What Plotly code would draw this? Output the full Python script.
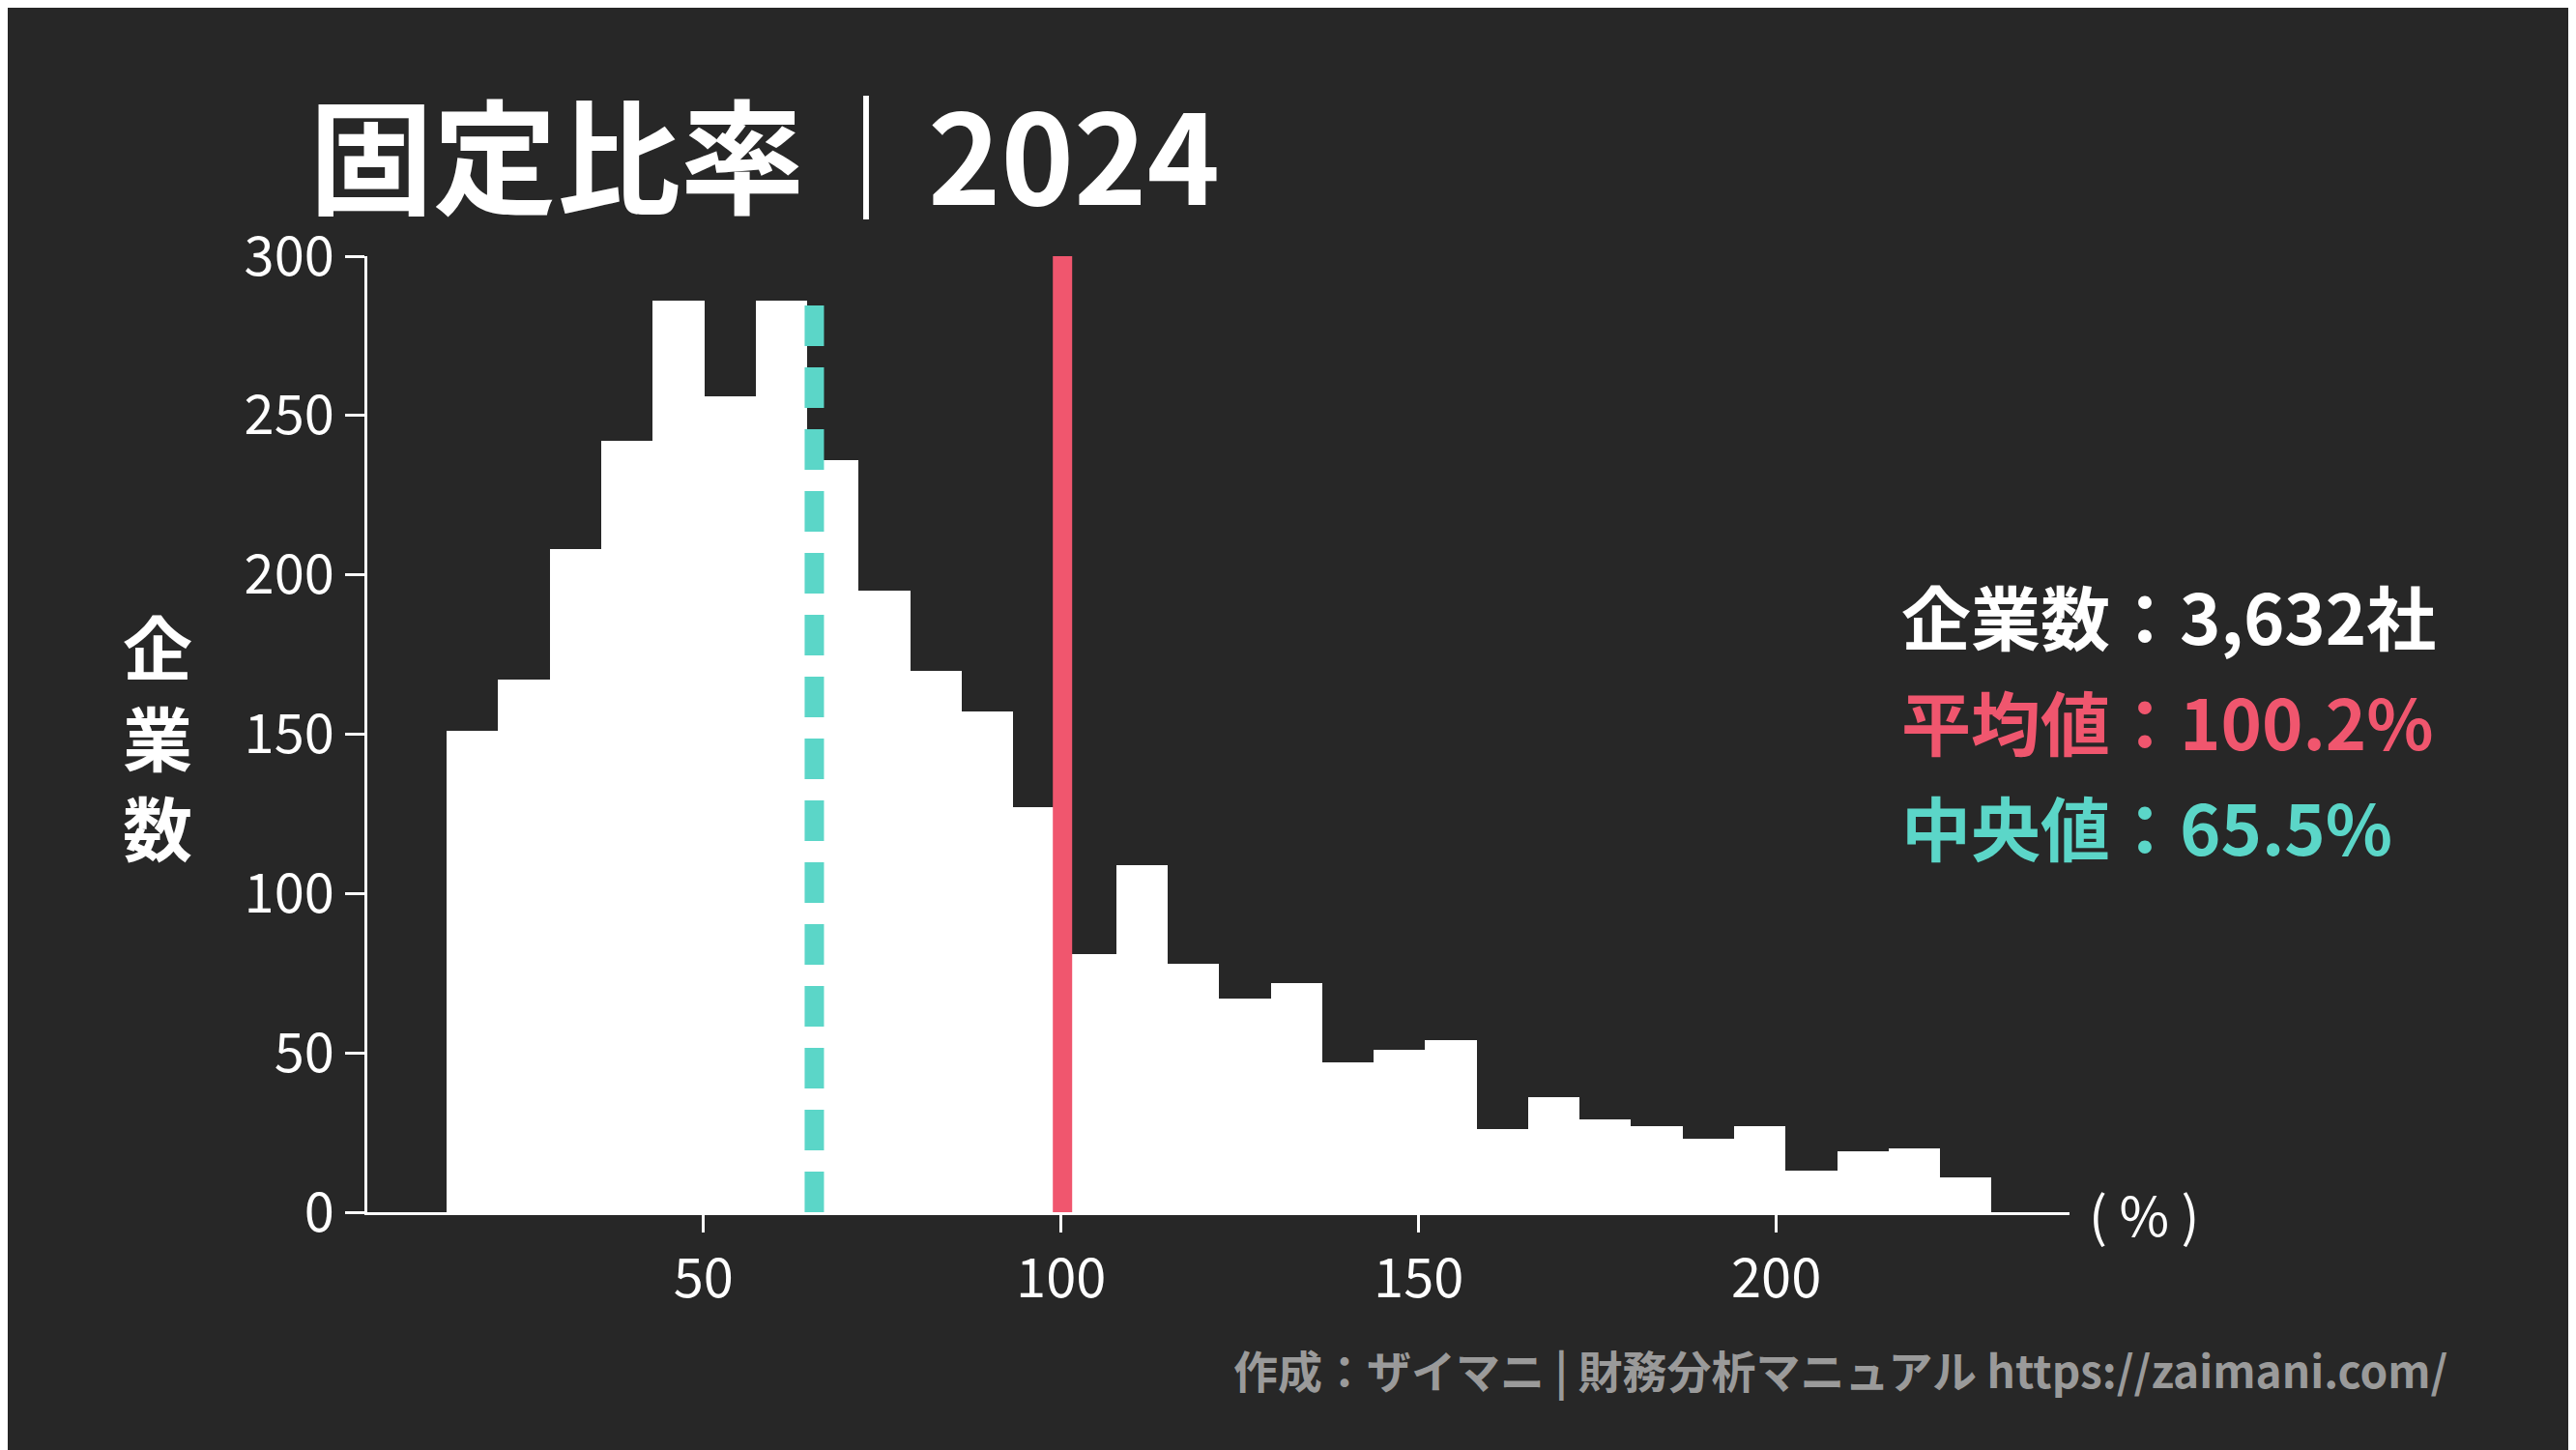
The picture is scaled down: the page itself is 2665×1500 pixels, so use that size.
import plotly.graph_objects as go

# histogram
bin_start = 14.1
bin_width = 7.2
counts = [151, 167, 208, 242, 286, 256, 286, 236, 195, 170, 157, 127, 81, 109, 78,
          67, 72, 47, 51, 54, 26, 36, 29, 27, 23, 27, 13, 19, 20, 11]
mean_val = 100.2
median_val = 65.5
n_companies = "3,632"

bg = "#272727"
red = "#F0566E"
teal = "#5BD6C8"
font = "Noto Sans CJK JP"

centers = [bin_start + bin_width * (i + 0.5) for i in range(len(counts))]

fig = go.Figure()
fig.add_trace(go.Bar(x=centers, y=counts, width=bin_width, marker=dict(color="white", line=dict(width=0))))
fig.add_trace(go.Scatter(x=[median_val, median_val], y=[0, 290], mode="lines",
                         line=dict(color=teal, width=20, dash="42px,22px")))
fig.add_trace(go.Scatter(x=[mean_val, mean_val], y=[0, 300], mode="lines",
                         line=dict(color=red, width=20)))

fig.update_layout(
    width=2665, height=1500, showlegend=False,
    paper_bgcolor=bg, plot_bgcolor=bg,
    margin=dict(l=372, r=532, t=257, b=254),
    font=dict(family=font, color="white"),
    bargap=0,
)
fig.update_xaxes(range=[3, 241], tickvals=[50, 100, 150, 200], ticks="outside", ticklen=18,
                 tickwidth=3, tickcolor="white", showline=True, linecolor="white", linewidth=3,
                 showgrid=False, zeroline=False, tickfont=dict(size=56, color="white"))
fig.update_yaxes(range=[0, 300], tickvals=[0, 50, 100, 150, 200, 250, 300], ticks="outside",
                 ticklen=20, tickwidth=3, tickcolor="white", showline=True, linecolor="white",
                 linewidth=3, showgrid=False, zeroline=False, tickfont=dict(size=56, color="white"))

fig.add_annotation(text="<b>固定比率｜2024</b>", xref="paper", yref="paper", x=-0.035, y=1.11,
                   xanchor="left", yanchor="middle", showarrow=False, font=dict(size=128, color="white"))
fig.add_annotation(text="<b>企<br>業<br>数</b>", xref="paper", yref="paper", x=-0.123, y=0.5,
                   xanchor="center", yanchor="middle", showarrow=False,
                   font=dict(size=72, color="white"), align="center")
fig.add_annotation(text="( % )", xref="paper", yref="paper", x=1.01, y=0,
                   xanchor="left", yanchor="middle", showarrow=False, font=dict(size=56, color="white"))
info = [("<b>企業数：" + n_companies + "社</b>", "white", 0.625),
        ("<b>平均値：" + f"{mean_val}%</b>", red, 0.515),
        ("<b>中央値：" + f"{median_val}%</b>", teal, 0.405)]
for txt, col, yy in info:
    fig.add_annotation(text=txt, xref="paper", yref="paper", x=0.9, y=yy, xanchor="left",
                       yanchor="middle", showarrow=False, font=dict(size=72, color=col))
fig.add_annotation(text="<b>作成：ザイマニ | 財務分析マニュアル https://zaimani.com/</b>",
                   xref="paper", yref="paper", x=1.223, y=-0.164, xanchor="right", yanchor="middle",
                   showarrow=False, font=dict(size=46, color="#9a9a9a"))

fig.write_html("out.html")
